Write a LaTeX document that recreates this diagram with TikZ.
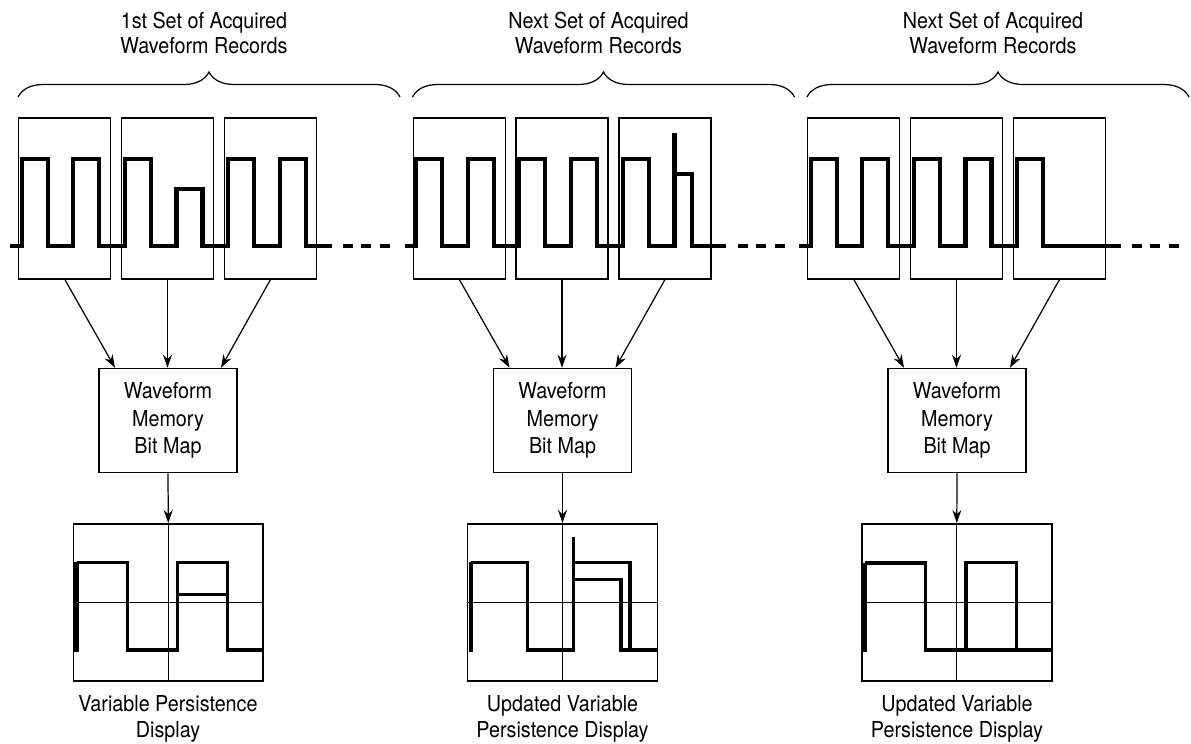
\documentclass[tikz,border=0pt]{standalone}
\usepackage{fontspec}
\setmainfont{TeX Gyre Heros}[FakeStretch=0.9]
\usepackage{tikz}
\usetikzlibrary{arrows.meta,calc,decorations.pathreplacing}
\tikzset{
  recbox/.style={draw, line width=0.6pt, minimum width=1.84cm, minimum height=3.22cm, inner sep=0pt},
  membox/.style={draw, line width=0.9pt, minimum width=2.76cm, minimum height=2.08cm,
    align=center, inner sep=0pt, font=\fontsize{12.5pt}{15.5pt}\selectfont},
  dispbox/.style={draw, line width=0.9pt, minimum width=3.8cm, minimum height=3.14cm, inner sep=0pt},
  txtlabel/.style={align=center, inner sep=0pt, font=\fontsize{12.5pt}{14.6pt}\selectfont},
  wave/.style={line width=2.3pt},
  dispwave/.style={line width=2pt},
  leadwave/.style={line width=2.6pt},
  contdash/.style={line width=2.3pt, dash pattern=on 5.7pt off 4.8pt},
  gridline/.style={line width=0.5pt},
  flow/.style={-{Stealth[length=2.6mm,width=1.8mm]}, line width=0.7pt},
  setbrace/.style={decorate, decoration={brace, amplitude=0.5cm}, line width=0.7pt}
}
\begin{document}
\begin{tikzpicture}[x=0.02cm, y=-0.02cm]
\useasboundingbox (0,0) rectangle (1191,744);

% headings and braces
\node[txtlabel] (head1) at (204,33) {1st Set of Acquired\\Waveform Records};
\node[txtlabel] (head2) at (598.5,33) {Next Set of Acquired\\Waveform Records};
\node[txtlabel] (head3) at (993,33) {Next Set of Acquired\\Waveform Records};
\draw[setbrace] (18,97) -- (400,97);
\draw[setbrace] (412.5,97) -- (794.5,97);
\draw[setbrace] (807,97) -- (1189,97);

% acquired records
\node[recbox] (rec11) at (64.8,198.5) {};
\node[recbox] (rec12) at (167.5,198.5) {};
\node[recbox] (rec13) at (270.5,198.5) {};
\node[recbox] (rec21) at (459.3,198.5) {};
\node[recbox] (rec22) at (562,198.5) {};
\node[recbox] (rec23) at (665,198.5) {};
\node[recbox] (rec31) at (853.8,198.5) {};
\node[recbox] (rec32) at (956.5,198.5) {};
\node[recbox] (rec33) at (1059.5,198.5) {};

% waveforms
\draw[wave] (10,246) -| (21.7,159.3) -| (47.7,246) -| (73.3,159.3) -| (99.3,246)
  -| (124.9,159.3) -| (150.9,246) -| (176.5,189.3) -| (202.5,246) -| (228.1,159.3)
  -| (254.1,246) -| (279.7,159.3) -| (305.7,246) -- (331.7,246);
\draw[contdash] (343,246) -- (392,246);
\draw[wave] (405,246) -| (416.2,159.3) -| (442.2,246) -| (467.8,159.3) -| (493.8,246)
  -| (519.4,159.3) -| (545.4,246) -| (571,159.3) -| (597,246) -| (622.6,159.3)
  -| (648.6,246) -| (674.5,132.7);
\draw[wave] (674.5,174.3) -| (692,246) -- (726,246);
\draw[contdash] (738,246) -- (790,246);
\draw[wave] (799,246) -| (810.7,159.3) -| (836.7,246) -| (862.3,159.3) -| (888.3,246)
  -| (913.9,159.3) -| (939.9,246) -| (965.5,159.3) -| (991.5,246) -| (1017.1,159.3)
  -| (1043.1,246) -- (1120.7,246);
\draw[contdash] (1132,246) -- (1186,246);

% bit maps
\node[membox] (mem1) at (168,420.5) {Waveform\\Memory\\Bit Map};
\node[membox] (mem2) at (562.5,420.5) {Waveform\\Memory\\Bit Map};
\node[membox] (mem3) at (957,420.5) {Waveform\\Memory\\Bit Map};

\draw[flow] (rec11.south) -- ($(mem1.north)+(-53,0)$);
\draw[flow] (rec12.south) -- (rec12.south |- mem1.north);
\draw[flow] (rec13.south) -- ($(mem1.north)+(53,0)$);
\draw[flow] (rec21.south) -- ($(mem2.north)+(-53,0)$);
\draw[flow] (rec22.south) -- (rec22.south |- mem2.north);
\draw[flow] (rec23.south) -- ($(mem2.north)+(53,0)$);
\draw[flow] (rec31.south) -- ($(mem3.north)+(-53,0)$);
\draw[flow] (rec32.south) -- (rec32.south |- mem3.north);
\draw[flow] (rec33.south) -- ($(mem3.north)+(53,0)$);

% displays
\node[dispbox] (disp1) at (168.3,602.3) {};
\node[dispbox] (disp2) at (562.5,602.3) {};
\node[dispbox] (disp3) at (956.8,602.3) {};
\foreach \d in {disp1,disp2,disp3}{
  \draw[gridline] (\d.north) -- (\d.south);
  \draw[gridline] (\d.west) -- (\d.east);
}
\draw[flow] (mem1.south) -- (disp1.north);
\draw[flow] (mem2.south) -- (disp2.north);
\draw[flow] (mem3.south) -- (disp3.north);

\draw[leadwave] (76.7,651.7) -- (76.7,562.3);
\draw[dispwave] (76.7,562.3) -| (127.7,650) -| (177.3,562.3) -| (227.3,650) -- (263.3,650);
\draw[dispwave] (177.3,594.3) -- (227.3,594.3);

\draw[leadwave] (471,651.7) -- (471,562.3);
\draw[dispwave] (471,562.3) -| (527.7,650) -| (573.3,536.7);
\draw[dispwave] (573.3,562.3) -| (630,650) -- (657.7,650);
\draw[dispwave] (573.3,579.3) -| (621,650) -- (630,650);

\draw[leadwave] (865,651.7) -- (865,563);
\draw[dispwave] (865,563) -| (925.7,650) -- (1051.7,650);
\draw[dispwave] (966,650) -- (966,562.3) -| (1016.7,650);

% captions
\node[txtlabel] (cap1) at (168,719) {Variable Persistence\\Display};
\node[txtlabel] (cap2) at (562.5,719) {Updated Variable\\Persistence Display};
\node[txtlabel] (cap3) at (957,719) {Updated Variable\\Persistence Display};
\end{tikzpicture}
\end{document}
